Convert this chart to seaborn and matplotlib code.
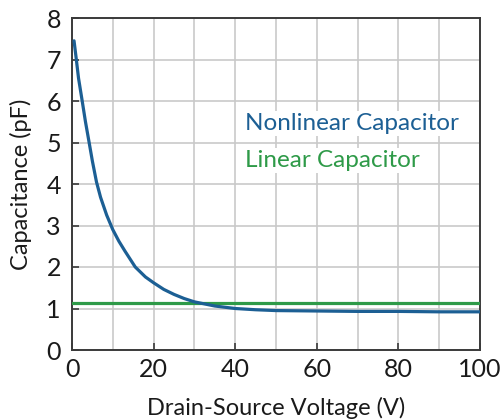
import matplotlib
matplotlib.use("Agg")
import matplotlib.pyplot as plt
from matplotlib.ticker import MultipleLocator
import pandas as pd
import seaborn as sns

# Drain-source voltage (V) and capacitance (pF) of the nonlinear capacitor
voltage = [0.5, 1.0, 1.6, 2.5, 3.3, 4.2, 5.0, 6.0, 7.0, 8.5, 10.0, 11.5,
           13.0, 15.5, 18.0, 20.0, 22.5, 25.0, 27.5, 30.0, 35.0, 40.0,
           45.0, 50.0, 60.0, 70.0, 80.0, 90.0, 100.0]
nonlinear_pf = [7.45, 7.05, 6.55, 6.0, 5.5, 5.0, 4.55, 4.05, 3.68, 3.25,
                2.9, 2.62, 2.38, 2.0, 1.76, 1.62, 1.46, 1.34, 1.24, 1.16,
                1.06, 1.0, 0.97, 0.95, 0.94, 0.93, 0.93, 0.92, 0.92]

# Linear capacitor: constant capacitance across the voltage range
linear_v = [0.0, 100.0]
linear_pf = [1.13, 1.13]

x_ticks = [0, 20, 40, 60, 80, 100]
y_ticks = [0, 1, 2, 3, 4, 5, 6, 7, 8]

blue = "#1c5f94"
green = "#2e9a48"
ink = "#1a1a1a"
label_font = ["Lato", "DejaVu Sans"]

sns.set_theme(style="whitegrid")
plt.rcParams["font.family"] = label_font

fig = plt.figure(figsize=(5.01, 4.20), dpi=100)
ax = fig.add_axes([72 / 501, 1 - 350 / 420, (480 - 72) / 501, (350 - 18) / 420])

nonlinear = pd.DataFrame({"V": voltage, "C": nonlinear_pf})
linear = pd.DataFrame({"V": linear_v, "C": linear_pf})

sns.lineplot(data=linear, x="V", y="C", ax=ax, color=green, linewidth=2.3,
             zorder=3)
sns.lineplot(data=nonlinear, x="V", y="C", ax=ax, color=blue, linewidth=2.3,
             zorder=4)

ax.set_xlim(0, 100)
ax.set_ylim(0, 8)
ax.set_xticks(x_ticks)
ax.set_yticks(y_ticks)
ax.xaxis.set_minor_locator(MultipleLocator(10))
ax.grid(True, which="both", axis="x", color="#c9c9c9", linewidth=1.2)
ax.grid(True, which="major", axis="y", color="#c9c9c9", linewidth=1.2)
ax.set_axisbelow(True)

for side in ax.spines.values():
    side.set_visible(True)
    side.set_color("#3a3a3a")
    side.set_linewidth(1.4)

ax.tick_params(axis="both", which="major", direction="in", length=5,
               width=1.2, color="#3a3a3a", labelsize=18, labelcolor=ink,
               left=True, bottom=True)
ax.tick_params(axis="x", which="minor", length=0)
ax.tick_params(axis="x", pad=6)
ax.tick_params(axis="y", pad=8)

ax.set_xlabel("Drain-Source Voltage (V)", fontsize=17, color=ink,
              labelpad=11)
ax.set_ylabel("Capacitance (pF)", fontsize=17, color=ink, labelpad=10)

box = dict(facecolor="white", edgecolor="none", pad=1.5)
ax.text(42.4, 5.3, "Nonlinear Capacitor", color=blue, fontsize=17.5,
        va="baseline", ha="left", bbox=box, zorder=5)
ax.text(42.4, 4.41, "Linear Capacitor", color=green, fontsize=17.5,
        va="baseline", ha="left", bbox=box, zorder=5)

fig.savefig("out.png", dpi=100, facecolor="white")
